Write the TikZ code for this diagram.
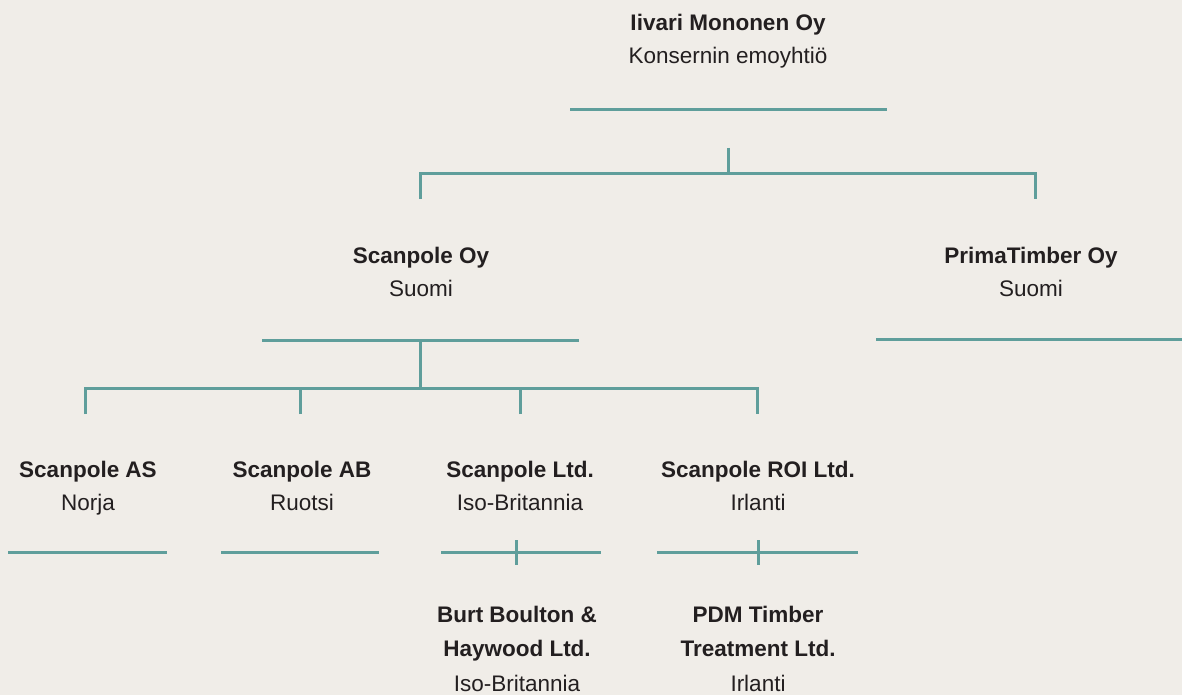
\documentclass[tikz,border=0pt]{standalone}
\usepackage{fontspec}
\setmainfont{Liberation Sans}
\usepackage{xcolor}
\usetikzlibrary{positioning,calc}

\definecolor{paper}{HTML}{F0EDE8}
\definecolor{teal}{HTML}{5F9E9B}
\definecolor{ink}{HTML}{231F20}

\tikzset{
    company/.style={align=center, text=ink, inner sep=0pt, anchor=north,
        font=\fontsize{22.5}{33}\selectfont},
    tallcompany/.style={company, font=\fontsize{22.5}{34.5}\selectfont},
    bar/.style={teal, line width=3pt},
}

\begin{document}
\begin{tikzpicture}[x=1pt, y=-1pt]
    % Canvas
    \fill[paper] (0,0) rectangle (1182,695);
    \useasboundingbox (0,0) rectangle (1182,695);

    % Parent
    \node[company] (iivari) at (728,7) {\strut\textbf{Iivari Mononen Oy}\\Konsernin emoyhtiö\strut};

    % Level 1
    \node[company] (scanOy) at (421,240) {\strut\textbf{Scanpole Oy}\\Suomi\strut};
    \node[company] (prima) at (1031,240) {\strut\textbf{PrimaTimber Oy}\\Suomi\strut};

    % Level 2
    \node[company] (scanAS) at (88,454) {\strut\textbf{Scanpole AS}\\Norja\strut};
    \node[company] (scanAB) at (302,454) {\strut\textbf{Scanpole AB}\\Ruotsi\strut};
    \node[company] (scanLtd) at (520,454) {\strut\textbf{Scanpole Ltd.}\\Iso-Britannia\strut};
    \node[company] (scanROI) at (758,454) {\strut\textbf{Scanpole ROI Ltd.}\\Irlanti\strut};

    % Level 3
    \node[tallcompany] (burt) at (517,598) {\strut\textbf{Burt Boulton \&}\\\textbf{Haywood Ltd.}\\Iso-Britannia\strut};
    \node[tallcompany] (pdm) at (758,598) {\strut\textbf{PDM Timber}\\\textbf{Treatment Ltd.}\\Irlanti\strut};

    % Underlines
    \coordinate (iivari-l) at (570,110);
    \coordinate (iivari-r) at (887,110);
    \coordinate (scanOy-l) at (262,340);
    \coordinate (scanOy-r) at (579,340);
    \coordinate (prima-l) at (876,339);
    \coordinate (prima-r) at (1182,339);
    \coordinate (scanAS-l) at (8,552);
    \coordinate (scanAS-r) at (167,552);
    \coordinate (scanAB-l) at (221,552);
    \coordinate (scanAB-r) at (379,552);
    \coordinate (scanLtd-l) at (441,552);
    \coordinate (scanLtd-r) at (601,552);
    \coordinate (scanROI-l) at (657,552);
    \coordinate (scanROI-r) at (858,552);
    \foreach \n in {iivari,scanOy,prima,scanAS,scanAB,scanLtd,scanROI}
        \draw[bar] (\n-l) -- (\n-r);

    % Parent to level 1
    \coordinate (iivari-tick) at (728,148);
    \coordinate (iivari-fork) at (728,174);
    \coordinate (scanOy-top) at (420,199);
    \coordinate (prima-top) at (1035,199);
    \draw[bar] (iivari-tick) -- (iivari-fork);
    \draw[bar] (scanOy-top) |- (iivari-fork) -| (prima-top);

    % Scanpole Oy to level 2
    \coordinate (scanOy-mid) at (420,340);
    \coordinate (scanOy-fork) at (420,388);
    \draw[bar] (scanOy-mid) -- (scanOy-fork);
    \coordinate (scanAS-top) at (85,414);
    \coordinate (scanAB-top) at (300,414);
    \coordinate (scanLtd-top) at (520,414);
    \coordinate (scanROI-top) at (757,414);
    \draw[bar] (scanAS-top) |- (scanOy-fork) -| (scanROI-top);
    \foreach \n in {scanAB,scanLtd}
        \draw[bar] (\n-top) -- (\n-top |- scanOy-fork);

    % Level 2 to level 3
    \coordinate (burt-tick) at (516,540);
    \coordinate (burt-end) at (516,565);
    \coordinate (pdm-tick) at (758,540);
    \coordinate (pdm-end) at (758,565);
    \draw[bar] (burt-tick) -- (burt-end);
    \draw[bar] (pdm-tick) -- (pdm-end);

\end{tikzpicture}
\end{document}
